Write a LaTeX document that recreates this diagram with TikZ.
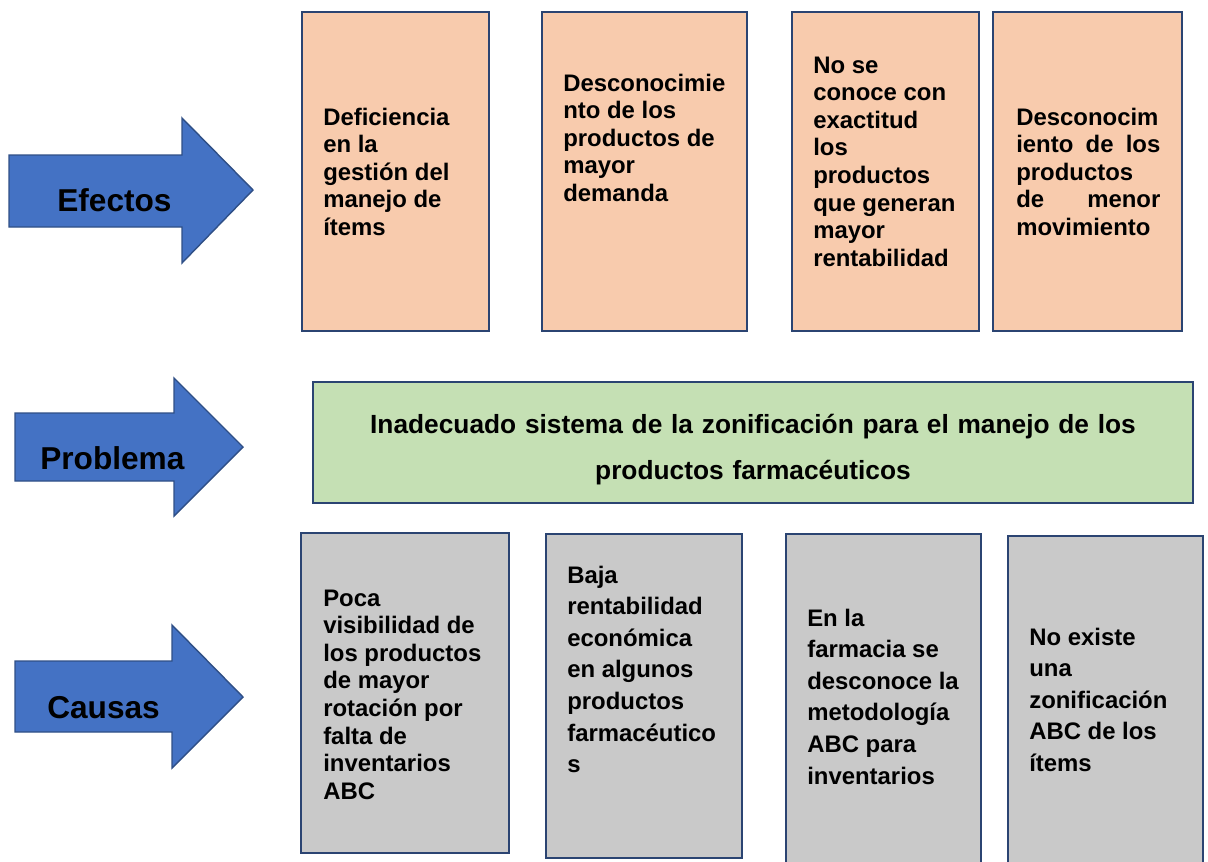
\documentclass[tikz,border=0pt]{standalone}
\usepackage{fontspec}
\setmainfont{Liberation Sans}
\usetikzlibrary{fit}

\definecolor{flecha}{HTML}{4472C4}
\definecolor{flechaborde}{HTML}{2F4F86}
\definecolor{borde}{HTML}{2B4472}
\definecolor{efectofill}{HTML}{F8CBAD}
\definecolor{problemafill}{HTML}{C5E0B4}
\definecolor{causafill}{HTML}{C9C9C9}

\begin{document}
\begin{tikzpicture}[
  x=0.025cm, y=-0.025cm,
  flechabox/.style={draw=flechaborde, line width=1pt, fill=flecha, line join=miter},
  etiqueta/.style={anchor=base west, inner sep=0pt, font=\fontsize{22.5}{27}\selectfont\bfseries},
  efecto/.style={draw=borde, line width=1.4pt, fill=efectofill, inner sep=0pt},
  problema/.style={draw=borde, line width=1.4pt, fill=problemafill, inner sep=0pt},
  causa/.style={draw=borde, line width=1.4pt, fill=causafill, inner sep=0pt},
  texto/.style={anchor=base west, inner sep=0pt, text width=5cm, align=flush left, font=\fontsize{17}{19.66}\selectfont\bfseries},
  textoancho/.style={texto, font=\fontsize{17}{22.5}\selectfont\bfseries}
]
\useasboundingbox (0,0) rectangle (1208,861);

% Flechas
\draw[flechabox] (9,155) -- (182,155) -- (182,118) -- (253,190) -- (182,263) -- (182,227) -- (9,227) -- cycle;
\node[etiqueta] (lefectos) at (57,211) {Efectos};

\draw[flechabox] (15,413) -- (174,413) -- (174,378) -- (243,447) -- (174,516) -- (174,481) -- (15,481) -- cycle;
\node[etiqueta] (lproblema) at (40,469) {Problema};

\draw[flechabox] (15,661) -- (172,661) -- (172,625) -- (243,697) -- (172,768) -- (172,732) -- (15,732) -- cycle;
\node[etiqueta] (lcausas) at (47,718) {Causas};

% Efectos
\node[efecto, fit={(302,12) (489,331)}] (e1) {};
\node[efecto, fit={(542,12) (747,331)}] (e2) {};
\node[efecto, fit={(792,12) (979,331)}] (e3) {};
\node[efecto, fit={(993,12) (1182,331)}] (e4) {};

\node[texto] (e1t) at (323,125) {Deficiencia\\en la\\gestión del\\manejo de\\ítems};
\node[texto] (e2t) at (563,91) {Desconocimie\\nto de los\\productos de\\mayor\\demanda};
\node[texto] (e3t) at (813,73) {No se\\conoce con\\exactitud\\los\\productos\\que generan\\mayor\\rentabilidad};
\node[texto, text width=3.6cm] (e4t) at (1016,125) {Desconocim\\iento\hfill de\hfill los\\productos\\de\hfill menor\\movimiento};

% Problema
\node[problema, fit={(313,382) (1193,503)}] (p) {};
\node[texto, anchor=base, text width=21cm, align=center, font=\fontsize{18.7}{33.4}\selectfont\bfseries] (pt) at (753,433) {Inadecuado sistema de la zonificación para el manejo de los\\productos farmacéuticos};

% Causas
\node[causa, fit={(301,533) (509,853)}] (c1) {};
\node[causa, fit={(546,534) (742,858)}] (c2) {};
\node[causa, fit={(786,534) (981,875)}] (c3) {};
\node[causa, fit={(1008,536) (1203,875)}] (c4) {};

\node[texto] (c1t) at (323,606) {Poca\\visibilidad de\\los productos\\de mayor\\rotación por\\falta de\\inventarios\\ABC};
\node[textoancho] (c2t) at (567,583) {Baja\\rentabilidad\\económica\\en algunos\\productos\\farmacéutico\\s};
\node[textoancho] (c3t) at (807,626) {En la\\farmacia se\\desconoce la\\metodología\\ABC para\\inventarios};
\node[textoancho] (c4t) at (1029,645) {No existe\\una\\zonificación\\ABC de los\\ítems};

\end{tikzpicture}
\end{document}
